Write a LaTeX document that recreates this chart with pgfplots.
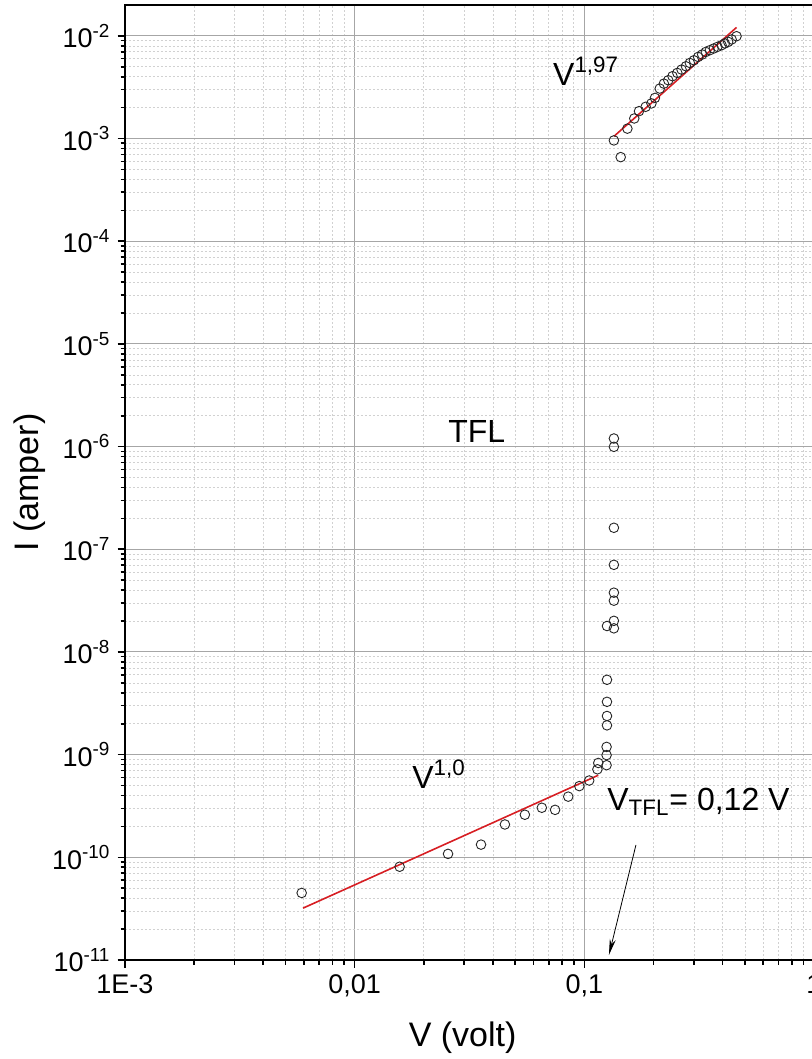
\documentclass[border=0pt]{standalone}
\usepackage{fontspec}
\setmainfont{Liberation Sans}
\usepackage{pgfplots}
\pgfplotsset{compat=1.18}
\usetikzlibrary{arrows.meta}
\definecolor{fitred}{RGB}{215,30,35}
\begin{document}
\begin{tikzpicture}
\begin{axis}[
  xmode=log, ymode=log,
  scale only axis, width=344.5pt, height=477.5pt,
  xmin=1e-3, xmax=1, ymin=1e-11, ymax=2e-2,
  xtick={1e-3,1e-2,1e-1,1},
  xticklabels={1E-3,{0,01},{0,1},1},
  ytick={1e-11,1e-10,1e-9,1e-8,1e-7,1e-6,1e-5,1e-4,1e-3,1e-2},
  yticklabels={10\textsuperscript{-11},10\textsuperscript{-10},10\textsuperscript{-9},10\textsuperscript{-8},10\textsuperscript{-7},10\textsuperscript{-6},10\textsuperscript{-5},10\textsuperscript{-4},10\textsuperscript{-3},10\textsuperscript{-2}},
  minor xtick={2e-3,3e-3,4e-3,5e-3,6e-3,7e-3,8e-3,9e-3,2e-2,3e-2,4e-2,5e-2,6e-2,7e-2,8e-2,9e-2,2e-1,3e-1,4e-1,5e-1,6e-1,7e-1,8e-1,9e-1},
  minor ytick={2e-11,3e-11,4e-11,5e-11,6e-11,7e-11,8e-11,9e-11,
    2e-10,3e-10,4e-10,5e-10,6e-10,7e-10,8e-10,9e-10,
    2e-9,3e-9,4e-9,5e-9,6e-9,7e-9,8e-9,9e-9,
    2e-8,3e-8,4e-8,5e-8,6e-8,7e-8,8e-8,9e-8,
    2e-7,3e-7,4e-7,5e-7,6e-7,7e-7,8e-7,9e-7,
    2e-6,3e-6,4e-6,5e-6,6e-6,7e-6,8e-6,9e-6,
    2e-5,3e-5,4e-5,5e-5,6e-5,7e-5,8e-5,9e-5,
    2e-4,3e-4,4e-4,5e-4,6e-4,7e-4,8e-4,9e-4,
    2e-3,3e-3,4e-3,5e-3,6e-3,7e-3,8e-3,9e-3},
  grid=both,
  major grid style={draw=black!35, line width=0.5pt},
  minor grid style={draw=black!18, line width=0.35pt, dash pattern=on 1pt off 1pt},
  tick align=outside, xtick pos=lower, ytick pos=left,
  major tick length=3.75pt, minor tick length=2.25pt,
  every tick/.style={black, line width=0.8pt},
  axis line style={line width=1.1pt},
  ticklabel style={font=\fontsize{13.5}{16}\selectfont},
  xlabel={V (volt)}, ylabel={I (amper)},
  label style={font=\fontsize{17}{20}\selectfont},
  xlabel style={at={(axis description cs:0.49,-0.091)}, anchor=base},
  ylabel style={at={(axis description cs:-0.138,0.5)}, anchor=center},
  clip=false,
]
\addplot[only marks, mark=o, mark size=2.4pt, draw=black!85, line width=0.45pt] coordinates {
(0.00588,4.5e-11) (0.0157,8.1e-11) (0.0255,1.08e-10) (0.0355,1.33e-10)
(0.0451,2.09e-10) (0.0551,2.6e-10) (0.0653,3.04e-10) (0.0746,2.9e-10)
(0.0851,3.9e-10) (0.0951,4.94e-10) (0.105,5.6e-10) (0.114,7.2e-10)
(0.115,8.3e-10) (0.125,7.9e-10) (0.125,9.9e-10) (0.125,1.19e-9)
(0.1255,1.93e-9) (0.1255,2.38e-9) (0.1255,3.27e-9) (0.1255,5.36e-9)
(0.1255,1.79e-8) (0.1345,1.7e-8) (0.1345,2.01e-8) (0.1345,3.16e-8)
(0.1345,3.78e-8) (0.1345,7.06e-8) (0.1345,1.62e-7) (0.1345,9.95e-7)
(0.1345,1.2e-6)
(0.1345,9.6e-4) (0.144,6.6e-4) (0.154,1.25e-3) (0.165,1.57e-3)
(0.173,1.85e-3) (0.185,2.04e-3) (0.196,2.2e-3) (0.203,2.49e-3)
(0.213,3.07e-3) (0.222,3.43e-3) (0.232,3.7e-3) (0.242,4.05e-3)
(0.254,4.36e-3) (0.265,4.7e-3) (0.277,5.06e-3) (0.288,5.45e-3)
(0.300,5.79e-3) (0.313,6.24e-3) (0.326,6.59e-3) (0.338,6.98e-3)
(0.352,7.26e-3) (0.366,7.54e-3) (0.380,7.82e-3) (0.396,8.12e-3)
(0.409,8.44e-3) (0.423,8.75e-3) (0.438,9.23e-3) (0.460,9.93e-3)
};
\addplot[fitred, line width=0.8pt] coordinates {(0.00596,3.2e-11) (0.115,6.3e-10)};
\addplot[fitred, line width=0.8pt] coordinates {(0.1345,1.05e-3) (0.460,1.21e-2)};
\node[anchor=base west, font=\fontsize{16}{19}\selectfont, inner sep=0pt] at (axis cs:0.0729,3.31e-3) {V\textsuperscript{1,97}};
\node[anchor=base west, font=\fontsize{16}{19}\selectfont, inner sep=0pt] at (axis cs:0.02546,1.09e-6) {TFL};
\node[anchor=base west, font=\fontsize{16}{19}\selectfont, inner sep=0pt] at (axis cs:0.01776,4.73e-10) {V\textsuperscript{1,0}};
\node[anchor=base west, font=\fontsize{16}{19}\selectfont, inner sep=0pt] at (axis cs:0.1254,2.89e-10) {V\textsubscript{TFL}= 0,12 V};
\draw[-{Stealth[length=8pt,width=3pt]}, line width=0.4pt] (axis cs:0.1678,1.32e-10) -- (axis cs:0.1280,1.12e-11);
\end{axis}
\pgfresetboundingbox
\path[use as bounding box] ([shift={(-62.5pt,-49.5pt)}]current axis.south west) rectangle ++(405.5pt,529.5pt);
\end{tikzpicture}
\end{document}
